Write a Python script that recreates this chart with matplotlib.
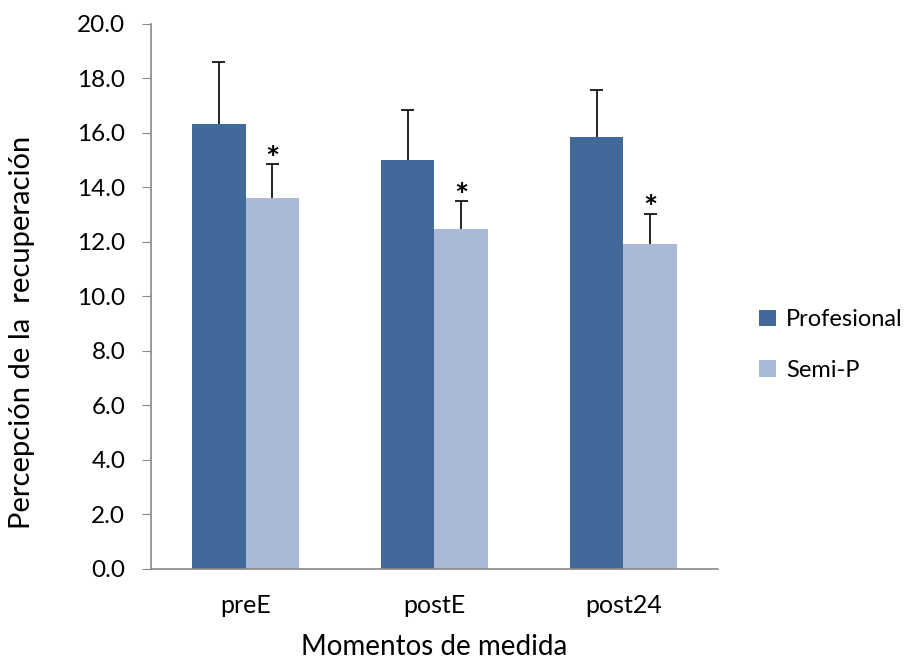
import matplotlib.pyplot as plt
import numpy as np

plt.rcParams['font.family'] = ['Lato', 'DejaVu Sans']

momentos = ['preE', 'postE', 'post24']
profesional = [16.34, 15.01, 15.87]
profesional_err = [2.25, 1.84, 1.72]
semi_p = [13.60, 12.47, 11.92]
semi_p_err = [1.26, 1.02, 1.11]
significativo = [True, True, True]

fig = plt.figure(figsize=(9.07, 6.61), dpi=100)
ax = fig.add_axes([0.1665, 0.1392, 0.6251, 0.8245])

x = np.arange(len(momentos))
w = 0.285
cap = 0.035

ax.bar(x - w / 2, profesional, width=w, color='#416A9B', label='Profesional', zorder=2)
ax.bar(x + w / 2, semi_p, width=w, color='#AAB9D7', label='Semi-P', zorder=2)

# barras de error solo hacia arriba
for xs, vals, errs in [(x - w / 2, profesional, profesional_err), (x + w / 2, semi_p, semi_p_err)]:
    tops = np.array(vals) + np.array(errs)
    ax.vlines(xs, vals, tops, color='black', lw=1.2, zorder=3)
    ax.hlines(tops, xs - cap, xs + cap, color='black', lw=1.2, zorder=3)

# asteriscos de significación sobre Semi-P
for i, sig in enumerate(significativo):
    if sig:
        ax.annotate('*', (x[i] + w / 2, semi_p[i] + semi_p_err[i]), xytext=(0, -4),
                    textcoords='offset points', ha='center', va='baseline',
                    fontsize=24, fontweight='bold')

ax.set_xlim(-0.5, 2.5)
ax.set_ylim(0, 20)
ax.set_yticks(np.arange(0, 20.1, 2))
ax.set_yticklabels([f'{v:.1f}' for v in np.arange(0, 20.1, 2)])
ax.set_xticks(x)
ax.set_xticklabels(momentos)
ax.tick_params(axis='y', labelsize=17.5, length=6.5, color='#888888', pad=12)
ax.tick_params(axis='x', labelsize=18, length=0, pad=18)

for s in ['top', 'right']:
    ax.spines[s].set_visible(False)
for s in ['left', 'bottom']:
    ax.spines[s].set_color('#888888')
    ax.spines[s].set_linewidth(1.2)

ax.set_xlabel('Momentos de medida', fontsize=20, labelpad=12)
ax.set_ylabel('Percepción de la  recuperación', fontsize=21)
ax.yaxis.set_label_coords(-0.205, 0.435)

fig.legend(loc='center left', bbox_to_anchor=(0.837, 0.478), frameon=False, fontsize=17,
           handlelength=0.7, handleheight=0.7, labelspacing=1.25, handletextpad=0.45,
           borderpad=0, borderaxespad=0)

fig.savefig('out.png', dpi=100)
